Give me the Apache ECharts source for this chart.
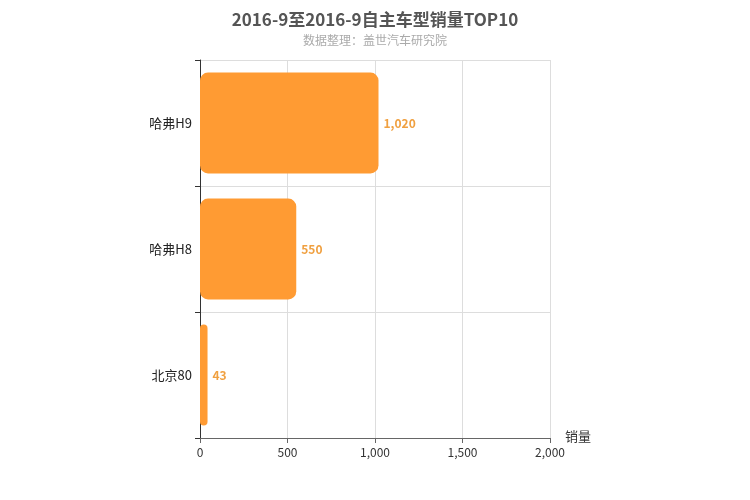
<!DOCTYPE html>
<html><head><meta charset="utf-8">
<script src="https://cdn.jsdelivr.net/npm/echarts@6/dist/echarts.min.js"></script>
<style>html,body{margin:0;padding:0;background:#fff}#main{width:750px;height:500px}</style>
</head><body><div id="main"></div>
<script>
// 数据（从上到下）
var categories = ['哈弗H9', '哈弗H8', '北京80'];
var sales = [1020, 550, 43];

var myChart = echarts.init(document.getElementById('main'));
var option = {
    textStyle: {fontFamily: 'Noto Sans CJK SC'},
    title: {
        text: '2016-9至2016-9自主车型销量TOP10',
        subtext: '数据整理：盖世汽车研究院',
        left: 'center', top: 6, itemGap: 6,
        textStyle: {fontSize: 17, fontWeight: 'bold', color: '#555'},
        subtextStyle: {fontSize: 12, color: '#aaa'}
    },
    grid: {left: 200, right: 200, top: 60, bottom: 62},
    xAxis: {
        type: 'value', min: 0, max: 2000, interval: 500,
        name: '销量', nameLocation: 'end', nameGap: 15,
        nameTextStyle: {color: '#333', fontSize: 13, verticalAlign: 'top', padding: [-8, 0, 0, 0]},
        axisLine: {show: true, lineStyle: {color: '#666'}},
        axisTick: {show: true},
        axisLabel: {color: '#333', fontSize: 12},
        splitLine: {show: true, lineStyle: {color: '#ddd'}}
    },
    yAxis: {
        type: 'category', inverse: true, data: categories,
        axisLine: {lineStyle: {color: '#333'}},
        axisTick: {show: true},
        axisLabel: {color: '#222', fontSize: 13},
        splitLine: {show: true, lineStyle: {color: '#ddd'}}
    },
    series: [{
        type: 'bar', data: sales, barWidth: '80%',
        itemStyle: {color: '#ff9b33', borderRadius: 8},
        label: {show: true, position: 'right', color: '#f0a040', fontWeight: 'bold', fontSize: 12,
            formatter: function (p) { return p.value.toLocaleString('en-US'); }}
    }]
};
myChart.setOption(option, true);
</script></body></html>
